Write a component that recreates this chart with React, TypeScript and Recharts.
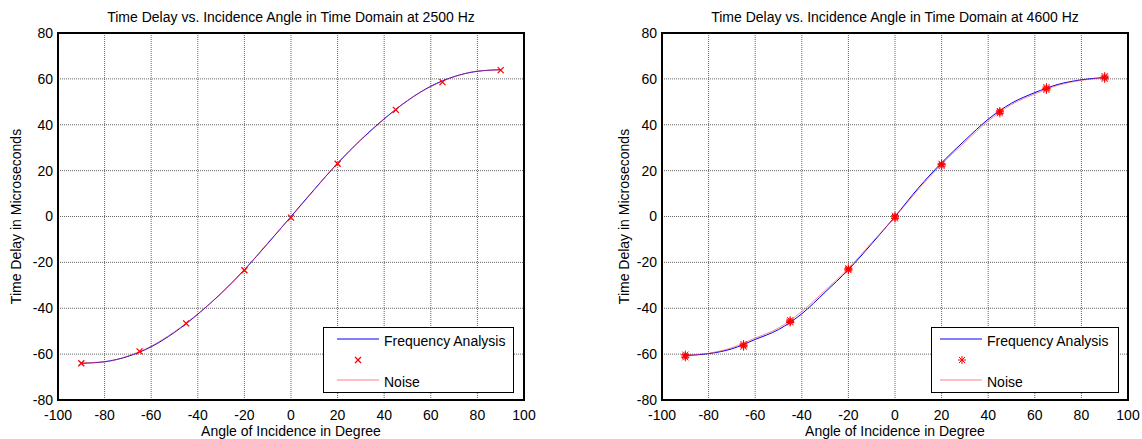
import React from 'react';
import { ComposedChart, Line, Scatter, XAxis, YAxis, CartesianGrid, ReferenceArea } from 'recharts';

const xTicks = [-100, -80, -60, -40, -20, 0, 20, 40, 60, 80, 100];
const yTicks = [-80, -60, -40, -20, 0, 20, 40, 60, 80];

// curve sample angles (deg)
const angles = [-90, -80, -70, -60, -50, -40, -30, -20, -10, 0, 10, 20, 30, 40, 50, 60, 70, 80, 90];

// 2500 Hz
const freq2500 = [-64, -63.3, -61, -56.8, -50.5, -42.6, -33.5, -23.2, -11.8, 0, 11.8, 23.2, 33.5, 42.6, 50.5, 56.8, 61, 63.3, 64];
const noise2500 = [-63.8, -63.4, -60.8, -56.5, -50.2, -42.4, -33.6, -23.4, -11.5, -0.2, 11.6, 23.4, 33.3, 42.4, 50.6, 56.6, 60.9, 63.4, 63.9];
const markAngles = [-90, -65, -45, -20, 0, 20, 45, 65, 90];
const marks2500 = [-64, -58.8, -46.6, -23.4, -0.5, 23, 46.5, 58.6, 63.8];

// 4600 Hz
const freq4600 = [-60.6, -59.8, -57.7, -53.6, -49.3, -42.4, -33, -23.2, -11.9, 0, 12.4, 23.4, 33.2, 42.4, 49.4, 54, 57.6, 59.6, 60.6];
const noise4600 = [-60.4, -59.6, -57.2, -53, -48.6, -41.4, -32.2, -22.6, -11.4, -0.3, 11.8, 22.8, 32.4, 41.6, 48.8, 53.4, 57.2, 59.4, 60.4];
const marks4600a = [-60.2, -55.6, -45.2, -22.6, -0.8, 22, 45, 55.2, 60];
const marks4600b = [-60.8, -56.2, -45.8, -23, -0.2, 22.6, 45.6, 55.8, 60.6];
const marks4600c = [-61.4, -56.8, -46.2, -23.4, 0.3, 23, 46, 56.4, 61.2];

const FONT = "Arial, 'Liberation Sans', sans-serif";
const FS = 14;

const toPts = (xs: number[], ys: number[]) => xs.map((x, i) => ({ x, y: ys[i] }));

const XMark = (props: any) => {
  const { cx, cy } = props;
  return (
    <g stroke="#ff0000" strokeWidth={1.3}>
      <line x1={cx - 3} y1={cy - 3} x2={cx + 3} y2={cy + 3} />
      <line x1={cx - 3} y1={cy + 3} x2={cx + 3} y2={cy - 3} />
    </g>
  );
};

const StarMark = (props: any) => {
  const { cx, cy } = props;
  return (
    <g stroke="#ff0000" strokeWidth={1}>
      <line x1={cx - 4} y1={cy} x2={cx + 4} y2={cy} />
      <line x1={cx} y1={cy - 4} x2={cx} y2={cy + 4} />
      <line x1={cx - 3} y1={cy - 3} x2={cx + 3} y2={cy + 3} />
      <line x1={cx - 3} y1={cy + 3} x2={cx + 3} y2={cy - 3} />
    </g>
  );
};

interface LegendProps {
  left: number;
  width: number;
  lineX1: number;
  lineX2: number;
  textX: number;
  markX: number;
  Mark: React.FC<any>;
}

const LegendBox: React.FC<LegendProps> = ({ left, width, lineX1, lineX2, textX, markX, Mark }) => (
  <svg
    width={width}
    height={66}
    style={{ position: 'absolute', left, top: 327, overflow: 'visible' }}
  >
    <rect x={0.5} y={0.5} width={width - 1} height={65} fill="#fff" stroke="#000" strokeWidth={1} />
    <line x1={lineX1} x2={lineX2} y1={12} y2={12} stroke="#0000ff" strokeWidth={1} />
    <text x={textX} y={19} fontSize={FS} fontFamily={FONT} fill="#000">
      Frequency Analysis
    </text>
    <Mark cx={markX} cy={33} />
    <line x1={lineX1} x2={lineX2} y1={53} y2={53} stroke="#ff8080" strokeWidth={1} />
    <text x={textX} y={60} fontSize={FS} fontFamily={FONT} fill="#000">
      Noise
    </text>
  </svg>
);

interface PanelProps {
  title: string;
  left: number;
  width: number;
  yAxisWidth: number;
  marginRight: number;
  yLabelOffset: number;
  freq: number[];
  noise: number[];
  marks: number[][];
  Mark: React.FC<any>;
  legend: Omit<LegendProps, 'Mark'>;
}

const Panel: React.FC<PanelProps> = ({ title, left, width, yAxisWidth, marginRight, yLabelOffset, freq, noise, marks, Mark, legend }) => {
  const plotCenter = yAxisWidth + (width - yAxisWidth - marginRight) / 2;
  return (
    <div style={{ position: 'absolute', left, top: 0, width, height: 439 }}>
      <div
        style={{
          position: 'absolute',
          left: plotCenter - 250,
          width: 500,
          top: 9,
          textAlign: 'center',
          fontFamily: FONT,
          fontSize: FS,
          lineHeight: '16px',
          color: '#000',
        }}
      >
        {title}
      </div>
      <ComposedChart
        width={width}
        height={439}
        margin={{ top: 33, right: marginRight, bottom: 0, left: 0 }}
        style={{ fontFamily: FONT }}
      >
        <CartesianGrid stroke="#666" strokeDasharray="1 1" />
        <XAxis
          type="number"
          dataKey="x"
          domain={[-100, 100]}
          ticks={xTicks}
          interval={0}
          height={39}
          axisLine={false}
          tickLine={false}
          tickSize={4}
          tickMargin={6}
          tick={{ fill: '#000', fontSize: FS }}
          label={{ value: 'Angle of Incidence in Degree', position: 'insideBottom', offset: 3, fill: '#000', fontSize: FS }}
        />
        <YAxis
          type="number"
          domain={[-80, 80]}
          ticks={yTicks}
          interval={0}
          width={yAxisWidth}
          axisLine={false}
          tickLine={false}
          tickSize={3}
          tickMargin={2}
          tick={{ fill: '#000', fontSize: FS }}
          label={{
            value: 'Time Delay in Microseconds',
            angle: -90,
            position: 'insideLeft',
            offset: yLabelOffset,
            fill: '#000',
            fontSize: FS,
            style: { textAnchor: 'middle' },
          }}
        />
        <ReferenceArea x1={-100} x2={100} y1={-80} y2={80} fill="none" stroke="#000" strokeWidth={2} />
        <Line
          data={toPts(angles, freq)}
          dataKey="y"
          type="monotone"
          stroke="#0000ff"
          strokeWidth={1}
          dot={false}
          isAnimationActive={false}
        />
        <Line
          data={toPts(angles, noise)}
          dataKey="y"
          type="monotone"
          stroke="#ff3030"
          strokeOpacity={0.55}
          strokeWidth={1}
          dot={false}
          isAnimationActive={false}
        />
        {marks.map((m, i) => (
          <Scatter
            key={i}
            data={toPts(markAngles, m)}
            dataKey="y"
            shape={<Mark />}
            isAnimationActive={false}
          />
        ))}
      </ComposedChart>
      <LegendBox {...legend} Mark={Mark} />
    </div>
  );
};

export default function App() {
  return (
    <div style={{ position: 'absolute', left: 0, top: 0, width: 1142, height: 439, background: '#fff' }}>
      <Panel
        title="Time Delay vs. Incidence Angle in Time Domain at 2500 Hz"
        left={0}
        width={560}
        yAxisWidth={58}
        marginRight={36}
        yLabelOffset={16}
        freq={freq2500}
        noise={noise2500}
        marks={[marks2500]}
        Mark={XMark}
        legend={{ left: 323, width: 191, lineX1: 14, lineX2: 56, textX: 61, markX: 35 }}
      />
      <Panel
        title="Time Delay vs. Incidence Angle in Time Domain at 4600 Hz"
        left={580}
        width={562}
        yAxisWidth={82}
        marginRight={14}
        yLabelOffset={44}
        freq={freq4600}
        noise={noise4600}
        marks={[marks4600a, marks4600b, marks4600c]}
        Mark={StarMark}
        legend={{ left: 351, width: 188, lineX1: 9, lineX2: 51, textX: 56, markX: 31 }}
      />
    </div>
  );
}
